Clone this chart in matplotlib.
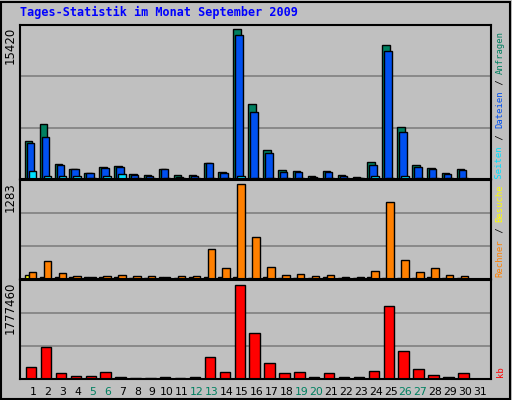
"""Webalizer-style daily statistics for September 2009."""

import matplotlib
matplotlib.use("Agg")
import matplotlib.pyplot as plt
import numpy as np
from matplotlib.patches import Rectangle

W, H = 512, 400
BG = "#C0C0C0"

days = list(range(1, 32))
weekend = {5, 6, 12, 13, 19, 20, 26, 27}

# values (day 31 has no data)
hits = [3950, 5620, 1560, 1040, 620, 1250, 1350, 520, 420, 1040, 420, 420,
        1660, 730, 15420, 7700, 3020, 940, 830, 310, 830, 420, 210, 1770,
        13750, 5300, 1460, 1140, 620, 1040, 0]
files = [3750, 4370, 1460, 1040, 620, 1140, 1250, 420, 310, 1040, 210, 310,
         1660, 620, 14790, 6870, 2710, 730, 730, 210, 730, 310, 100, 1460,
         13120, 4790, 1250, 1040, 520, 940, 0]
pages = [830, 310, 310, 310, 100, 310, 520, 100, 100, 100, 100, 100,
         100, 100, 310, 100, 100, 100, 100, 100, 100, 100, 100, 310,
         100, 310, 100, 100, 100, 100, 0]
sites = [92, 240, 78, 46, 32, 46, 60, 46, 46, 32, 46, 46, 406, 143, 1283,
         572, 157, 60, 74, 46, 60, 32, 32, 102, 1043, 254, 88, 143, 60, 46, 0]
visits = [60, 32, 32, 32, 32, 32, 32, 14, 14, 32, 14, 32, 32, 32, 32, 14,
          32, 14, 14, 14, 32, 14, 14, 32, 14, 14, 14, 32, 14, 14, 0]
kbytes = [227000, 597000, 104000, 65000, 65000, 123000, 45000, 26000, 26000,
          45000, 26000, 45000, 422000, 123000, 1777460, 869000, 298000,
          104000, 123000, 45000, 104000, 45000, 45000, 143000, 1369000,
          532000, 182000, 84000, 45000, 104000, 0]


def px_axes(fig, left, top, right, bottom):
    """Add axes given pixel edges measured from the top-left corner."""
    return fig.add_axes([left / W, 1 - bottom / H, (right - left) / W, (bottom - top) / H])


def style_panel(ax, ymax, frac):
    ax.set_facecolor(BG)
    ax.set_xlim(0.13, 31.74)
    ax.set_ylim(0, ymax / frac)
    for level in (1 / 3, 2 / 3):
        ax.axhline(ymax / frac * level, color="#808080", lw=1.2, zorder=0)
    ax.set_xticks([])
    ax.set_yticks([])
    for spine in ax.spines.values():
        spine.set_color("black")
        spine.set_linewidth(1.5)


fig = plt.figure(figsize=(W / 100, H / 100), dpi=100, facecolor=BG)
fig.patches.append(Rectangle((0.002, 0.003), 0.994, 0.993, transform=fig.transFigure,
                             fill=False, edgecolor="black", lw=1.5))

x = np.array(days, dtype=float)
edge = dict(edgecolor="black", linewidth=1, align="edge")

ax1 = px_axes(fig, 20, 25, 491, 179)
style_panel(ax1, 15420, 148 / 152)
ax1.bar(x - 0.55, hits, width=0.5, color="#008060", **edge)
ax1.bar(x - 0.42, files, width=0.5, color="#0050F0", **edge)
ax1.bar(x - 0.28, pages, width=0.5, color="#00E0FF", **edge)

ax2 = px_axes(fig, 20, 180, 491, 279)
style_panel(ax2, 1283, 93 / 97)
ax2.bar(x - 0.55, visits, width=0.27, color="#FFFF00", **edge)
ax2.bar(x - 0.28, sites, width=0.5, color="#FF8000", **edge)

ax3 = px_axes(fig, 20, 280, 491, 379)
style_panel(ax3, 1777460, 91.3 / 95.7)
ax3.bar(x - 0.47, kbytes, width=0.7, color="#FF0000", **edge)

for day in days:
    ax3.text(day, -0.08, str(day), transform=ax3.get_xaxis_transform(),
             ha="center", va="top", fontsize=7.8,
             color="#008060" if day in weekend else "black")

fig.text(20 / W, 1 - 12 / H, "Tages-Statistik im Monat September 2009",
         family="DejaVu Sans Mono", weight="bold", fontsize=8.5,
         color="#0000FF", va="center")

for label, top in (("15420", 27), ("1283", 182), ("1777460", 282)):
    fig.text(10 / W, 1 - top / H, label, rotation=90, ha="center", va="top",
             fontsize=8.5)

# right-hand legend, written bottom to top
legend_parts = [("kb", "#FF0000", 377), ("Rechner", "#FF8000", 277),
                (" / ", "black", None), ("Besuche", "#FFFF00", None),
                (" Seiten", "#00E0FF", None), (" / ", "black", None),
                ("Dateien", "#0050F0", None), (" / ", "black", None),
                ("Anfragen", "#008060", None)]
char_px = 5.5
pos = 0
for text, color, start in legend_parts:
    if start is not None:
        pos = start
    fig.text(500 / W, 1 - pos / H, text, rotation=90, ha="center", va="bottom",
             family="DejaVu Sans Mono", fontsize=6.4, color=color)
    pos -= len(text) * char_px

fig.savefig("out.png", dpi=100, facecolor=BG)
